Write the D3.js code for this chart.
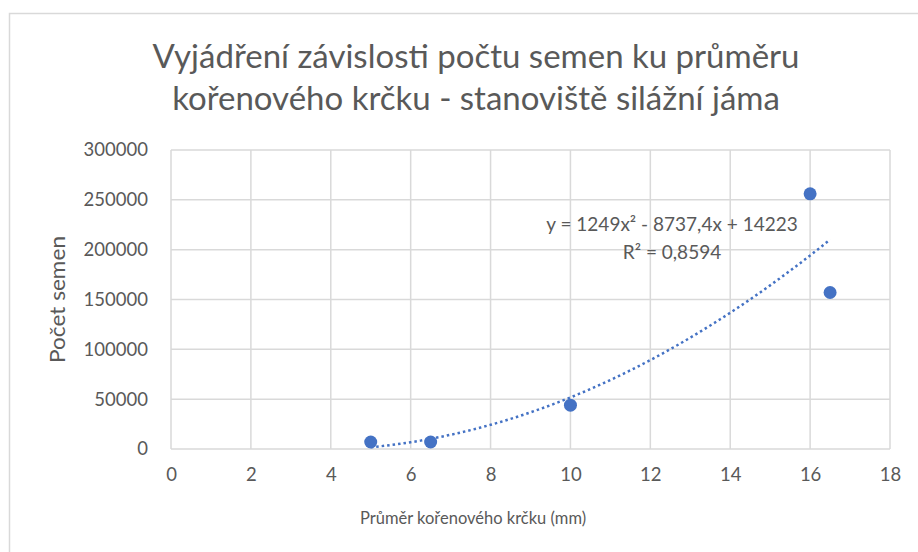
<!DOCTYPE html>
<html>
<head>
<meta charset="utf-8">
<script src="https://cdn.jsdelivr.net/npm/d3@7"></script>
<style>
    body { margin: 0; background: #fff; }
    svg text { font-family: Lato, "Open Sans", sans-serif; fill: #595959; }
</style>
</head>
<body>
<div id="chart"></div>
<script>
// data
const diameters = [5, 6.5, 10, 16, 16.5];
const seedCounts = [7000, 7000, 44000, 256000, 157000];
const xTicks = [0, 2, 4, 6, 8, 10, 12, 14, 16, 18];
const yTicks = [0, 50000, 100000, 150000, 200000, 250000, 300000];
// polynomial trendline as printed on the chart: a*x^2 + b*x + c
const trendCoefs = [1249, -8737.4, 14223];
const trendRange = [5, 16.5];
const titleLines = ["Vyjádření závislosti počtu semen ku průměru", "kořenového krčku - stanoviště silážní jáma"];
const trendLabel = ["y = 1249x² - 8737,4x + 14223", "R² = 0,8594"];

const width = 918, height = 552;
const plot = { left: 171, right: 890, top: 150, bottom: 449 };
const blue = "#4472C4";

const svg = d3.select("#chart").append("svg")
    .attr("width", width)
    .attr("height", height);

// chart frame
svg.append("rect")
    .attr("x", 9.5).attr("y", 13.5)
    .attr("width", 920).attr("height", 560)
    .attr("fill", "#fff")
    .attr("stroke", "#d9d9d9")
    .attr("stroke-width", 1.5);

const x = d3.scaleLinear().domain([0, 18]).range([plot.left, plot.right]);
const y = d3.scaleLinear().domain([0, 300000]).range([plot.bottom, plot.top]);

// gridlines
const grid = svg.append("g");
grid.selectAll("line.h")
    .data(yTicks)
    .join("line")
    .attr("x1", plot.left).attr("x2", plot.right)
    .attr("y1", d => y(d)).attr("y2", d => y(d))
    .attr("stroke", "#d9d9d9").attr("stroke-width", 1.5);
grid.selectAll("line.v")
    .data(xTicks)
    .enter().append("line")
    .attr("y1", plot.top).attr("y2", plot.bottom)
    .attr("x1", d => x(d)).attr("x2", d => x(d))
    .attr("stroke", "#d9d9d9").attr("stroke-width", 1.5);

// axes (labels only)
const xAxis = svg.append("g")
    .attr("transform", `translate(0, ${plot.bottom})`)
    .call(d3.axisBottom(x).tickValues(xTicks).tickSize(0).tickPadding(19).tickFormat(d3.format("d")));
const yAxis = svg.append("g")
    .attr("transform", `translate(${plot.left}, 0)`)
    .call(d3.axisLeft(y).tickValues(yTicks).tickSize(0).tickPadding(23).tickFormat(d3.format("d")));
[xAxis, yAxis].forEach(a => {
    a.select(".domain").remove();
    a.selectAll("text").style("font-size", "18.5px").attr("fill", "#595959");
});

// trendline
const trend = d3.range(trendRange[0], trendRange[1] + 0.01, 0.25).map(v => [v, trendCoefs[0] * v * v + trendCoefs[1] * v + trendCoefs[2]]);
svg.append("path")
    .datum(trend)
    .attr("fill", "none")
    .attr("stroke", blue)
    .attr("stroke-width", 2.5)
    .attr("stroke-dasharray", "2.5 3")
    .attr("d", d3.line().x(d => x(d[0])).y(d => y(d[1])));

// points
svg.append("g")
    .selectAll("circle")
    .data(diameters)
    .join("circle")
    .attr("cx", d => x(d))
    .attr("cy", (d, i) => y(seedCounts[i]))
    .attr("r", 6.5)
    .attr("fill", blue);

// trendline label
svg.append("g")
    .selectAll("text")
    .data(trendLabel)
    .join("text")
    .attr("x", 672)
    .attr("y", (d, i) => 231 + i * 28)
    .attr("text-anchor", "middle")
    .style("font-size", "19px")
    .text(d => d);

// title
svg.append("g")
    .selectAll("text")
    .data(titleLines)
    .join("text")
    .attr("x", 476)
    .attr("y", (d, i) => 68 + i * 42)
    .attr("text-anchor", "middle")
    .style("font-size", "33px")
    .text(d => d);

// axis titles
svg.append("text")
    .attr("x", 473).attr("y", 524)
    .attr("text-anchor", "middle")
    .style("font-size", "16.5px")
    .text("Průměr kořenového krčku (mm)");
svg.append("text")
    .attr("transform", `translate(58, ${y(150000)}) rotate(-90)`)
    .attr("text-anchor", "middle")
    .attr("dy", "0.35em")
    .style("font-size", "21px")
    .attr("textLength", 127)
    .attr("lengthAdjust", "spacingAndGlyphs")
    .text("Počet semen");
</script>
</body>
</html>
